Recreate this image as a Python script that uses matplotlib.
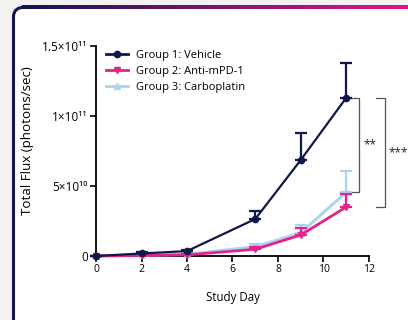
import numpy as np
import matplotlib
matplotlib.use('Agg')
import matplotlib.pyplot as plt
from matplotlib.patches import FancyBboxPatch
from matplotlib.lines import Line2D
from matplotlib.ticker import FixedLocator
from matplotlib.colors import LinearSegmentedColormap

plt.rcParams['font.family'] = ['Open Sans', 'DejaVu Sans']

days = [0, 2, 4, 7, 9, 11]
vehicle = [0.0, 1.8e9, 3.5e9, 26.4e9, 68.6e9, 113e9]
vehicle_err = [0.3e9, 0.8e9, 0.8e9, 5.6e9, 19.4e9, 24.6e9]
antipd1 = [0.0, 0.4e9, 0.8e9, 4.8e9, 15e9, 35e9]
antipd1_err = [0.2e9, 0.3e9, 0.4e9, 1.5e9, 5e9, 9e9]
carbo = [0.0, 0.6e9, 1.2e9, 6.6e9, 16.6e9, 45.5e9]
carbo_err = [0.2e9, 0.3e9, 0.5e9, 1.8e9, 5.4e9, 15.5e9]

names = ['Group 1: Vehicle', 'Group 2: Anti-mPD-1', 'Group 3: Carboplatin']
colors = ['#12174a', '#e2238a', '#a9d5f3']
markers = ['o', 'v', '^']

ytick_vals = [0, 5e10, 1e11, 1.5e11]
ytick_labels = ['0', '5×10¹⁰', '1×10¹¹', '1.5×10¹¹']

fig = plt.figure(figsize=(4.08, 3.2), dpi=100)
fig.patch.set_facecolor('#f3f2f0')

# card background
card = FancyBboxPatch((13.5 / 408, -0.2), 1.2, 1 - 7 / 320 + 0.2,
                      boxstyle='round,pad=0,rounding_size=0.03',
                      transform=fig.transFigure, facecolor='white',
                      edgecolor='#12174a', linewidth=2.2, zorder=-10)
fig.patches.append(card)

# gradient top border
gax = fig.add_axes([22 / 408, 1 - 8.6 / 320, 1 - 22 / 408, 3.2 / 320])
grad = np.linspace(0, 1, 256)[None, :]
cmap = LinearSegmentedColormap.from_list('g', ['#12174a', '#e2168a'])
gax.imshow(grad, aspect='auto', cmap=cmap)
gax.axis('off')

ax = fig.add_axes([96 / 408, 1 - 256 / 320, (369 - 96) / 408, (256 - 46) / 320])
ax.patch.set_alpha(0)

series = [(vehicle, vehicle_err, 1.6),
          (antipd1, antipd1_err, 2.0),
          (carbo, carbo_err, 2.2)]
for i in [2, 1, 0]:
    vals, err, lw = series[i]
    ax.errorbar(days, vals, yerr=[np.zeros(len(err)), err], color=colors[i],
                marker=markers[i], markersize=4.5, linewidth=lw, elinewidth=1.6,
                capsize=4.5, capthick=1.6, clip_on=False, zorder=3 + (2 - i))

ax.set_xlim(0, 12)
ax.set_ylim(0, 1.5e11)
ax.set_xticks([0, 2, 4, 6, 8, 10, 12])
ax.yaxis.set_major_locator(FixedLocator(ytick_vals))
ax.set_yticklabels(ytick_labels)
for s in ['top', 'right']:
    ax.spines[s].set_visible(False)
for s in ['left', 'bottom']:
    ax.spines[s].set_linewidth(1.3)
ax.tick_params(direction='out', length=4, width=1.2, colors='black', pad=2)
ax.tick_params(axis='x', labelsize=7.5)
ax.tick_params(axis='y', labelsize=8.5)
ax.set_xlabel('Study Day', fontsize=8.3)
ax.set_ylabel('Total Flux (photons/sec)', fontsize=9.6)
ax.yaxis.set_label_coords(-0.228, 0.55)
ax.xaxis.set_label_coords(0.5, -0.165)

handles = [Line2D([], [], color=colors[i], marker=markers[i], markersize=4.5,
                  linewidth=2) for i in range(3)]
ax.legend(handles, names, loc='upper left', bbox_to_anchor=(0.0, 1.03), frameon=False,
          fontsize=8, handlelength=2.0, handletextpad=0.7, labelspacing=0.45)

# significance brackets
bc = '#555555'
def bracket(x, xt, y1, y2, text, tx):
    ax.plot([xt, x, x, xt], [y1, y1, y2, y2], color=bc, linewidth=0.9, clip_on=False)
    ax.text(tx, (y1 + y2) / 2, text, ha='center', va='center', fontsize=8.5,
            color='#222222')

bracket(11.56, 11.2, vehicle[-1], carbo[-1], '**', 12.05)
bracket(12.69, 12.32, vehicle[-1], antipd1[-1], '***', 13.3)

fig.savefig('out.png', dpi=100, facecolor=fig.get_facecolor())
